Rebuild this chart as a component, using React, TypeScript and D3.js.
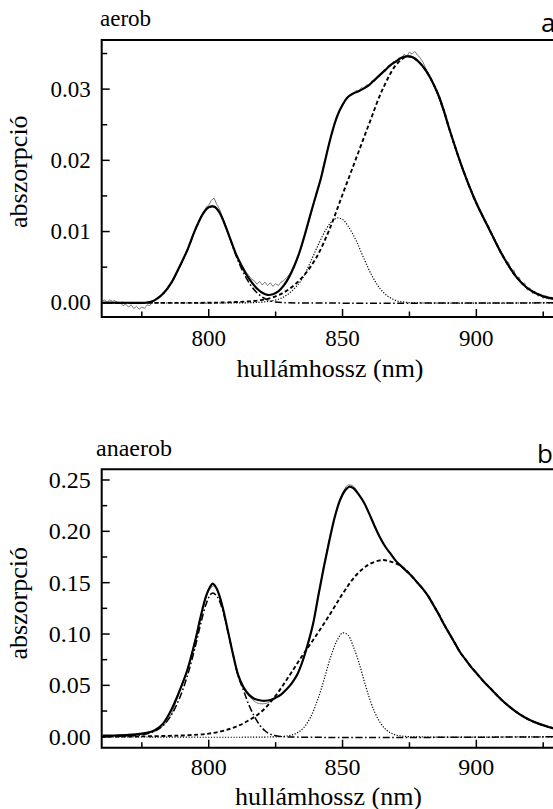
import React from 'react';
import * as d3 from 'd3';

type Pt = [number, number];

// ---------- shared x axis ----------
const X_DOMAIN: [number, number] = [760, 935];
const X_MAJOR = [800, 850, 900];
const X_MINOR = [775, 825, 875, 925];
const X_TITLE = 'hullámhossz (nm)';
const Y_TITLE = 'abszorpció';

// ---------- panel a (aerob) ----------
const A_Y_DOMAIN: [number, number] = [-0.002, 0.0369];
const A_Y_MAJOR = [0, 0.01, 0.02, 0.03];
const A_Y_MINOR = [0.005, 0.015, 0.025, 0.035];
const A_Y_LABELS = ['0.00', '0.01', '0.02', '0.03'];

const A_MEAS_START = 760;
const aMeasured = [
  0.0002, 0.0004, 0.0001, 0.0004, 0.0002, 0.0003, -0.0001, 0.0, -0.0004, -0.0002,
  -0.0006, -0.0003, -0.0008, -0.0005, -0.0009, -0.0006, -0.0008, -0.0003, -0.0004, 0.0001,
  0.0003, 0.0008, 0.0009, 0.0015, 0.0016, 0.0024, 0.0027, 0.0033, 0.0041, 0.0049,
  0.0056, 0.0066, 0.0073, 0.0084, 0.0092, 0.0104, 0.011, 0.0121, 0.0126, 0.0134,
  0.0137, 0.0144, 0.0147, 0.0138, 0.0132, 0.0121, 0.0113, 0.01, 0.0091, 0.0079,
  0.007, 0.0062, 0.0055, 0.0049, 0.0043, 0.0038, 0.0033, 0.0031, 0.0026, 0.003,
  0.0025, 0.0029, 0.0024, 0.0028, 0.0023, 0.0027, 0.0024, 0.0029, 0.0031, 0.0035,
  0.0039, 0.0045, 0.0053, 0.006, 0.007, 0.0082, 0.0094, 0.0108, 0.0121, 0.0136,
  0.0148, 0.0164, 0.0177, 0.0194, 0.0208, 0.0225, 0.0237, 0.0251, 0.026, 0.027,
  0.0276, 0.0284, 0.0287, 0.0293, 0.0294, 0.0298, 0.0297, 0.0302, 0.0301, 0.0306,
  0.0305, 0.0312, 0.0311, 0.0318, 0.0318, 0.0325, 0.0325, 0.0332, 0.0332, 0.0339,
  0.0337, 0.0344, 0.0343, 0.0349, 0.0346, 0.0352, 0.0349, 0.0353, 0.0348, 0.0344,
  0.0338, 0.033, 0.0323, 0.0314, 0.0306, 0.0297, 0.0288, 0.0276, 0.0266, 0.0253,
  0.0244, 0.0232, 0.0221, 0.0207, 0.0198, 0.0185, 0.0177, 0.0165, 0.0159, 0.0145,
  0.0142, 0.013, 0.0126, 0.0114, 0.0111, 0.0099, 0.0095, 0.0085, 0.0081, 0.007,
  0.0068, 0.0058, 0.0057, 0.0046, 0.0046, 0.0035, 0.0036, 0.0026, 0.0028, 0.0018,
  0.0021, 0.0013, 0.0016, 0.0009, 0.0012, 0.0006, 0.001, 0.0005, 0.0008, 0.0004,
  0.0007,
];

const aSum: Pt[] = [
  [760, 0], [770, 0], [776, 0], [778, 0.0001], [780, 0.0004], [783, 0.0013], [786, 0.0028],
  [789, 0.005], [792, 0.0074], [795, 0.0103], [798, 0.0126], [800, 0.0134], [802, 0.0135],
  [804, 0.0127], [806, 0.011], [808, 0.009], [810, 0.007], [812, 0.0054], [814, 0.004],
  [816, 0.0029], [818, 0.002], [820, 0.0014], [822, 0.0011], [824, 0.0012], [826, 0.0016],
  [828, 0.0024], [830, 0.0036], [832, 0.0052], [834, 0.0072], [836, 0.0097], [838, 0.0124],
  [840, 0.015], [842, 0.0176], [844, 0.0208], [846, 0.0238], [848, 0.0262], [850, 0.0278],
  [852, 0.0289], [854, 0.0294], [856, 0.0297], [858, 0.0301], [860, 0.0306], [862, 0.0313],
  [864, 0.032], [866, 0.0327], [868, 0.0334], [870, 0.0339], [872, 0.0344], [874, 0.0346],
  [876, 0.0345], [878, 0.034], [880, 0.0332], [882, 0.0321], [884, 0.0307], [886, 0.029],
  [888, 0.0268], [890, 0.0243], [895, 0.0187], [900, 0.014], [905, 0.0102], [910, 0.0065],
  [915, 0.0036], [920, 0.0018], [925, 0.0009], [930, 0.0005], [935, 0.0002],
];

const aB800: Pt[] = [
  [760, 0], [776, 0], [778, 0.0001], [780, 0.0004], [783, 0.0013], [786, 0.0028], [789, 0.005],
  [792, 0.0074], [795, 0.0103], [798, 0.0126], [800, 0.0134], [802, 0.0135], [804, 0.0127],
  [806, 0.011], [808, 0.009], [810, 0.0068], [812, 0.005], [814, 0.0035], [816, 0.0023],
  [818, 0.0014], [820, 0.0008], [822, 0.0004], [825, 0.0001], [830, 0], [935, 0],
];

const aB850: Pt[] = [
  [760, 0], [815, 0], [820, 0.0001], [824, 0.0003], [828, 0.0008], [832, 0.002], [835, 0.0034],
  [838, 0.0057], [841, 0.0082], [844, 0.0104], [846, 0.0114], [848, 0.0119], [850, 0.0117],
  [852, 0.0108], [855, 0.0088], [858, 0.0062], [861, 0.0038], [864, 0.002], [867, 0.0009],
  [870, 0.0003], [873, 0.0001], [876, 0], [935, 0],
];

const aB875: Pt[] = [
  [760, 0], [800, 0], [810, 0.0001], [815, 0.0002], [820, 0.0004], [825, 0.0009], [830, 0.0019],
  [835, 0.0036], [840, 0.0062], [845, 0.0102], [850, 0.0152], [855, 0.0202], [860, 0.0252],
  [865, 0.03], [870, 0.0334], [874, 0.0346], [876, 0.0345], [878, 0.034], [880, 0.0332],
  [882, 0.0321], [884, 0.0307], [886, 0.029], [888, 0.0268], [890, 0.0243], [895, 0.0187],
  [900, 0.014], [905, 0.0102], [910, 0.0065], [915, 0.0036], [920, 0.0018], [925, 0.0009],
  [930, 0.0005], [935, 0.0002],
];

// ---------- panel b (anaerob) ----------
const B_Y_DOMAIN: [number, number] = [-0.0107, 0.2604];
const B_Y_MAJOR = [0, 0.05, 0.1, 0.15, 0.2, 0.25];
const B_Y_MINOR = [0.025, 0.075, 0.125, 0.175, 0.225];
const B_Y_LABELS = ['0.00', '0.05', '0.10', '0.15', '0.20', '0.25'];

const bMeasured: Pt[] = [
  [760, 0.001], [762, 0.0012], [764, 0.0008], [766, 0.0013], [768, 0.001], [770, 0.0015],
  [772, 0.0018], [774, 0.0022], [776, 0.003], [778, 0.0042], [780, 0.0058], [782, 0.0085],
  [784, 0.0135], [786, 0.022], [788, 0.036], [790, 0.052], [792, 0.065], [794, 0.085],
  [796, 0.107], [798, 0.127], [800, 0.142], [802, 0.147], [804, 0.138], [806, 0.117],
  [808, 0.093], [810, 0.07], [812, 0.054], [814, 0.043], [816, 0.037], [818, 0.033],
  [820, 0.032], [822, 0.033], [824, 0.036], [826, 0.039], [828, 0.043], [830, 0.049],
  [832, 0.056], [834, 0.067], [836, 0.081], [838, 0.099], [840, 0.123], [842, 0.152],
  [844, 0.179], [846, 0.203], [848, 0.222], [850, 0.237], [852, 0.245], [854, 0.244],
  [856, 0.237], [858, 0.228], [860, 0.217], [862, 0.205], [864, 0.194], [866, 0.185],
  [868, 0.178], [870, 0.171], [872, 0.166], [874, 0.161], [876, 0.156], [878, 0.15],
  [880, 0.144], [882, 0.137], [884, 0.128], [886, 0.119], [888, 0.109], [890, 0.1],
  [892, 0.09], [894, 0.082], [896, 0.075], [898, 0.068], [900, 0.062], [902, 0.056],
  [904, 0.05], [906, 0.045], [908, 0.04], [910, 0.034], [912, 0.03], [914, 0.026],
  [916, 0.022], [918, 0.019], [920, 0.016], [922, 0.014], [924, 0.012], [926, 0.01],
  [928, 0.0088], [930, 0.0075], [935, 0.005],
];

const bSum: Pt[] = [
  [760, 0.001], [765, 0.0012], [770, 0.0017], [775, 0.003], [778, 0.0045], [780, 0.0065],
  [783, 0.013], [786, 0.026], [789, 0.044], [792, 0.065], [795, 0.094], [797, 0.117],
  [799, 0.137], [800.5, 0.146], [801.5, 0.149], [803, 0.144], [805, 0.128], [807, 0.105],
  [809, 0.081], [811, 0.06], [813, 0.048], [815, 0.041], [817, 0.037], [819, 0.0355],
  [821, 0.035], [823, 0.0358], [825, 0.038], [827, 0.041], [829, 0.046], [831, 0.052],
  [833, 0.06], [835, 0.073], [837, 0.09], [839, 0.11], [841, 0.138], [843, 0.165],
  [845, 0.19], [847, 0.213], [849, 0.23], [851, 0.24], [852.5, 0.2434], [854, 0.242],
  [856, 0.236], [858, 0.228], [860, 0.217], [862, 0.205], [864, 0.194], [866, 0.185],
  [868, 0.178], [870, 0.171], [872, 0.166], [874, 0.161], [876, 0.156], [878, 0.15],
  [880, 0.144], [882, 0.137], [884, 0.128], [886, 0.119], [888, 0.109], [890, 0.1],
  [892, 0.091], [894, 0.082], [896, 0.075], [898, 0.068], [900, 0.062], [903, 0.053],
  [906, 0.045], [909, 0.037], [912, 0.03], [915, 0.024], [918, 0.019], [921, 0.015],
  [924, 0.012], [927, 0.0095], [930, 0.0075], [935, 0.005],
];

const bB800: Pt[] = [
  [760, 0], [765, 0.0002], [770, 0.0006], [775, 0.0018], [778, 0.0035], [780, 0.0055],
  [783, 0.011], [786, 0.021], [789, 0.037], [792, 0.059], [795, 0.088], [797, 0.11],
  [799, 0.129], [800.5, 0.138], [801.5, 0.14], [803, 0.137], [805, 0.125], [807, 0.104],
  [809, 0.081], [811, 0.059], [813, 0.045], [815, 0.031], [817, 0.02], [819, 0.0115],
  [821, 0.0058], [823, 0.0025], [825, 0.001], [828, 0], [935, 0],
];

const bB850: Pt[] = [
  [760, 0], [826, 0], [830, 0.0011], [832, 0.0025], [834, 0.0053], [836, 0.0104],
  [838, 0.0187], [840, 0.031], [842, 0.046], [844, 0.064], [846, 0.081], [848, 0.094],
  [850, 0.101], [852, 0.099], [854, 0.088], [856, 0.073], [858, 0.055], [860, 0.038],
  [862, 0.024], [864, 0.014], [866, 0.0075], [868, 0.0037], [870, 0.0016], [872, 0.0007],
  [875, 0], [935, 0],
];

const bB875: Pt[] = [
  [760, 0], [775, 0.0003], [785, 0.0008], [790, 0.0012], [796, 0.002], [800, 0.003],
  [805, 0.0055], [810, 0.0095], [815, 0.016], [820, 0.025], [825, 0.04], [830, 0.059],
  [835, 0.079], [840, 0.098], [845, 0.118], [850, 0.139], [855, 0.157], [860, 0.168],
  [865, 0.172], [868, 0.1705], [871, 0.1675], [874, 0.1615], [876, 0.156], [878, 0.15],
  [880, 0.144], [882, 0.137], [884, 0.128], [886, 0.119], [888, 0.109], [890, 0.1],
  [892, 0.091], [894, 0.082], [896, 0.075], [898, 0.068], [900, 0.062], [903, 0.053],
  [906, 0.045], [909, 0.037], [912, 0.03], [915, 0.024], [918, 0.019], [921, 0.015],
  [924, 0.012], [927, 0.0095], [930, 0.0075], [935, 0.005],
];

const SERIF = '"Liberation Serif", "DejaVu Serif", "Times New Roman", serif';
const SANS = '"Open Sans", "Liberation Sans", sans-serif';

interface PanelCfg {
  id: string;
  top: number;
  bottom: number;
  yDomain: [number, number];
  yMajor: number[];
  yMinor: number[];
  yLabels: string[];
  measured: Pt[];
  measuredCurve: d3.CurveFactory;
  sum: Pt[];
  b800: Pt[];
  b850: Pt[];
  b875: Pt[];
  name: string;
  nameX: number;
  nameY: number;
  nameSize: number;
  letter: string;
  letterX: number;
  letterY: number;
  tickSize: number;
  xLabelY: number;
  xTitleY: number;
  xTitleX: number;
  yTitleY: number;
}

const LEFT = 101.7;
const RIGHT = 570;

const serifStyle = (size: number): React.CSSProperties => ({ fontFamily: SERIF, fontSize: `${size}px` });

function Panel({ c }: { c: PanelCfg }) {
  const x = d3.scaleLinear().domain(X_DOMAIN).range([LEFT, RIGHT]);
  const y = d3.scaleLinear().domain(c.yDomain).range([c.bottom, c.top]);
  const smooth = d3.line<Pt>().x((d) => x(d[0])).y((d) => y(d[1])).curve(d3.curveCatmullRom.alpha(0.5));
  const meas = d3.line<Pt>().x((d) => x(d[0])).y((d) => y(d[1])).curve(c.measuredCurve);
  const clipId = `clip-${c.id}`;
  return (
    <g>
      <defs>
        <clipPath id={clipId}>
          <rect x={LEFT + 1} y={c.top + 1} width={RIGHT - LEFT} height={c.bottom - c.top - 2} />
        </clipPath>
      </defs>
      <g clipPath={`url(#${clipId})`} fill="none">
        <path d={meas(c.measured) || ''} stroke="#6a6a6a" strokeWidth={0.9} />
        <path d={smooth(c.b800) || ''} stroke="#000" strokeWidth={1.5} strokeDasharray="7,2.5,1.6,2.5" />
        <path d={smooth(c.b850) || ''} stroke="#000" strokeWidth={1.2} strokeDasharray="1.2,1.6" />
        <path d={smooth(c.b875) || ''} stroke="#000" strokeWidth={1.9} strokeDasharray="4,2.6" />
        <path d={smooth(c.sum) || ''} stroke="#000" strokeWidth={2.2} />
      </g>
      <path
        d={`M${RIGHT + 10},${c.top} H${LEFT} V${c.bottom} H${RIGHT + 10}`}
        fill="none"
        stroke="#000"
        strokeWidth={2}
      />
      {c.yMajor.map((v, i) => (
        <g key={`ym${i}`}>
          <line x1={LEFT} x2={LEFT + 8} y1={y(v)} y2={y(v)} stroke="#000" strokeWidth={1.5} />
          <text x={90.7} y={y(v) + c.tickSize * 0.33} textAnchor="end" style={serifStyle(c.tickSize)} fill="#000">
            {c.yLabels[i]}
          </text>
        </g>
      ))}
      {c.yMinor.map((v, i) => (
        <line key={`yn${i}`} x1={LEFT} x2={LEFT + 5.5} y1={y(v)} y2={y(v)} stroke="#000" strokeWidth={1.5} />
      ))}
      {X_MAJOR.map((v) => (
        <g key={`xm${v}`}>
          <line x1={x(v)} x2={x(v)} y1={c.bottom} y2={c.bottom - 8} stroke="#000" strokeWidth={1.5} />
          <text x={x(v)} y={c.xLabelY} textAnchor="middle" style={serifStyle(c.tickSize)} fill="#000">
            {String(v)}
          </text>
        </g>
      ))}
      {X_MINOR.map((v) => (
        <line key={`xn${v}`} x1={x(v)} x2={x(v)} y1={c.bottom} y2={c.bottom - 5.5} stroke="#000" strokeWidth={1.5} />
      ))}
      <text x={c.xTitleX} y={c.xTitleY} textAnchor="middle" style={serifStyle(26)} fill="#000">
        {X_TITLE}
      </text>
      <text
        transform={`translate(27,${c.yTitleY}) rotate(-90)`}
        textAnchor="middle"
        style={serifStyle(26)}
        fill="#000"
      >
        {Y_TITLE}
      </text>
      <text x={c.nameX} y={c.nameY} style={serifStyle(c.nameSize)} fill="#000">
        {c.name}
      </text>
      <text x={c.letterX} y={c.letterY} style={{ fontFamily: SANS, fontSize: '26px' }} fill="#000">
        {c.letter}
      </text>
    </g>
  );
}

export default function App() {
  const aMeasuredPts: Pt[] = aMeasured.map((v, i) => [A_MEAS_START + i, v]);
  const panelA: PanelCfg = {
    id: 'a',
    top: 40,
    bottom: 317,
    yDomain: A_Y_DOMAIN,
    yMajor: A_Y_MAJOR,
    yMinor: A_Y_MINOR,
    yLabels: A_Y_LABELS,
    measured: aMeasuredPts,
    measuredCurve: d3.curveLinear,
    sum: aSum,
    b800: aB800,
    b850: aB850,
    b875: aB875,
    name: 'aerob',
    nameX: 100,
    nameY: 26,
    nameSize: 23,
    letter: 'a',
    letterX: 541,
    letterY: 32,
    tickSize: 23,
    xLabelY: 345.5,
    xTitleY: 376.5,
    xTitleX: 330,
    yTitleY: 171.7,
  };
  const panelB: PanelCfg = {
    id: 'b',
    top: 469.3,
    bottom: 747.7,
    yDomain: B_Y_DOMAIN,
    yMajor: B_Y_MAJOR,
    yMinor: B_Y_MINOR,
    yLabels: B_Y_LABELS,
    measured: bMeasured,
    measuredCurve: d3.curveCatmullRom.alpha(0.5),
    sum: bSum,
    b800: bB800,
    b850: bB850,
    b875: bB875,
    name: 'anaerob',
    nameX: 96,
    nameY: 455.7,
    nameSize: 24,
    letter: 'b',
    letterX: 537,
    letterY: 463.3,
    tickSize: 24,
    xLabelY: 775,
    xTitleY: 805,
    xTitleX: 328.5,
    yTitleY: 603.3,
  };
  return (
    <svg
      width={553}
      height={809}
      viewBox="0 0 553 809"
      style={{ position: 'absolute', left: 0, top: 0, background: '#fff' }}
    >
      <rect x={0} y={0} width={553} height={809} fill="#fff" />
      <Panel c={panelA} />
      <Panel c={panelB} />
    </svg>
  );
}
